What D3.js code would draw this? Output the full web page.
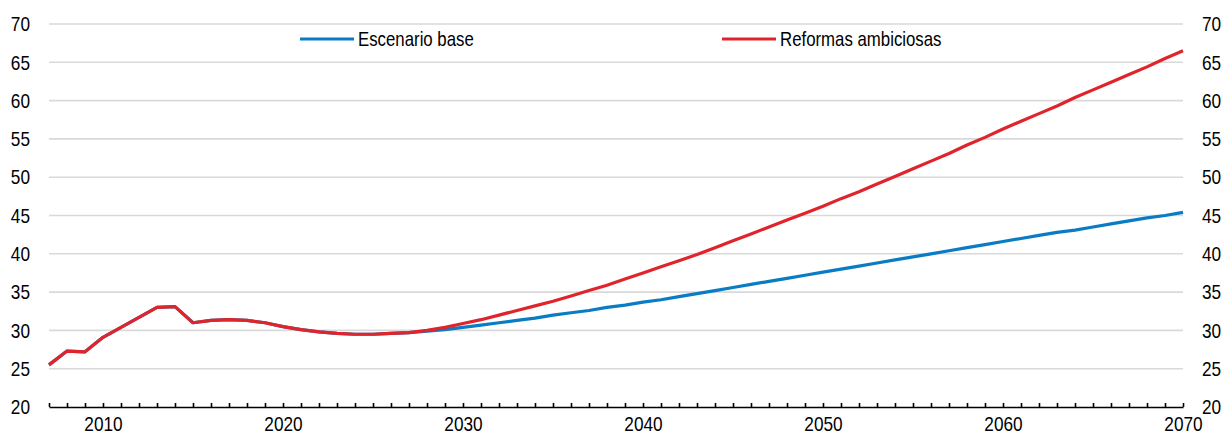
<!DOCTYPE html>
<html>
<head>
<meta charset="utf-8">
<script src="https://cdn.jsdelivr.net/npm/d3@7"></script>
<style>
  body { margin: 0; background: #fff; }
  svg text { font-family: "Liberation Sans", Arial, sans-serif; fill: #000; }
  .grid line { stroke: #d9d9d9; stroke-width: 1.6; }
  .line { fill: none; stroke-width: 3.2; stroke-linejoin: round; }
</style>
</head>
<body>
<div id="chart"></div>
<script>
// years 2007..2070
var years = d3.range(2007, 2071);

var seriesNames = ["Escenario base", "Reformas ambiciosas"];
var seriesColors = ["#0a7cc4", "#e0242c"];

var base = [
  25.5, 27.3, 27.2, 29.1, 30.4, 31.7, 33.0, 33.1, 31.0, 31.3,   // 2007-2016
  31.4, 31.3, 31.0, 30.5, 30.1, 29.8, 29.6, 29.5, 29.5, 29.6,   // 2017-2026
  29.7, 29.9, 30.1, 30.4, 30.7, 31.0, 31.3, 31.6, 32.0, 32.3,   // 2027-2036
  32.6, 33.0, 33.3, 33.7, 34.0, 34.4, 34.8, 35.2, 35.6, 36.0,   // 2037-2046
  36.4, 36.8, 37.2, 37.6, 38.0, 38.4, 38.8, 39.2, 39.6, 40.0,   // 2047-2056
  40.4, 40.8, 41.2, 41.6, 42.0, 42.4, 42.8, 43.1, 43.5, 43.9,   // 2057-2066
  44.3, 44.7, 45.0, 45.4                                        // 2067-2070
];

var reformas = [
  25.5, 27.3, 27.2, 29.1, 30.4, 31.7, 33.0, 33.1, 31.0, 31.3,   // 2007-2016
  31.4, 31.3, 31.0, 30.5, 30.1, 29.8, 29.6, 29.5, 29.5, 29.6,   // 2017-2026
  29.7, 30.0, 30.4, 30.9, 31.4, 32.0, 32.6, 33.2, 33.8, 34.5,   // 2027-2036
  35.2, 35.9, 36.7, 37.5, 38.3, 39.1, 39.9, 40.8, 41.7, 42.6,   // 2037-2046
  43.5, 44.4, 45.3, 46.2, 47.2, 48.1, 49.1, 50.1, 51.1, 52.1,   // 2047-2056
  53.1, 54.2, 55.2, 56.3, 57.3, 58.3, 59.3, 60.4, 61.4, 62.4,   // 2057-2066
  63.4, 64.4, 65.5, 66.5                                        // 2067-2070
];

var yTicks = [20, 25, 30, 35, 40, 45, 50, 55, 60, 65, 70];
var xLabels = [2010, 2020, 2030, 2040, 2050, 2060, 2070];

var W = 1223, H = 434;
var margin = { top: 24, right: 40, bottom: 27, left: 49 };
var narrow = "scale(0.82,1)"; // no narrow font installed, squeeze the glyphs instead

var svg = d3.select("#chart").append("svg")
  .attr("width", W)
  .attr("height", H);

var x = d3.scaleLinear().domain([2007, 2070]).range([margin.left, W - margin.right]);
var y = d3.scaleLinear().domain([20, 70]).range([H - margin.bottom, margin.top]);

// gridlines
svg.append("g").attr("class", "grid")
  .selectAll("line")
  .data(yTicks.slice(1))
  .enter().append("line")
  .attr("x1", x(2007)).attr("x2", x(2070))
  .attr("y1", function(d) { return y(d); })
  .attr("y2", function(d) { return y(d); });

// left and right y labels
svg.append("g")
  .attr("transform", "translate(" + (margin.left - 19) + ",0)")
  .call(d3.axisLeft(y).tickValues(yTicks).tickSize(0).tickPadding(0))
  .call(function(g) { g.select(".domain").remove(); })
  .selectAll("text")
  .style("font-size", "21px")
  .attr("transform", narrow);

svg.append("g")
  .attr("transform", "translate(" + (W - margin.right + 19) + ",0)")
  .call(d3.axisRight(y).tickValues(yTicks).tickSize(0).tickPadding(0))
  .call(function(g) { g.select(".domain").remove(); })
  .selectAll("text")
  .style("font-size", "21px")
  .attr("transform", narrow);

// x axis: year ticks pointing up, labels every 10 years
var xAxis = svg.append("g")
  .attr("transform", "translate(0," + y(20) + ")")
  .call(d3.axisBottom(x)
    .tickValues(years)
    .tickSizeInner(-4)
    .tickSizeOuter(0)
    .tickPadding(9)
    .tickFormat(function(d) { return xLabels.indexOf(d) >= 0 ? d : ""; }));
xAxis.select(".domain").attr("stroke", "#000").attr("stroke-width", 1.6);
xAxis.selectAll(".tick line").attr("stroke", "#000").attr("stroke-width", 1.6);
xAxis.selectAll("text").style("font-size", "21px").attr("transform", narrow);

// lines
var line = d3.line()
  .x(function(d, i) { return x(years[i]); })
  .y(function(d) { return y(d); });

[base, reformas].forEach(function(s, i) {
  svg.append("path")
    .attr("class", "line")
    .attr("stroke", seriesColors[i])
    .attr("d", line(s));
});

// legend
var legendX = [300, 722];
var legend = svg.append("g").selectAll("g")
  .data(seriesNames)
  .enter().append("g")
  .attr("transform", function(d, i) { return "translate(" + legendX[i] + ",39)"; });

legend.append("line")
  .attr("x1", 0).attr("x2", 54)
  .attr("stroke", function(d, i) { return seriesColors[i]; })
  .attr("stroke-width", 3.2);

legend.append("text")
  .attr("transform", "translate(58,0) " + narrow)
  .attr("dy", "0.35em")
  .style("font-size", "20.5px")
  .text(function(d) { return d; });
</script>
</body>
</html>
